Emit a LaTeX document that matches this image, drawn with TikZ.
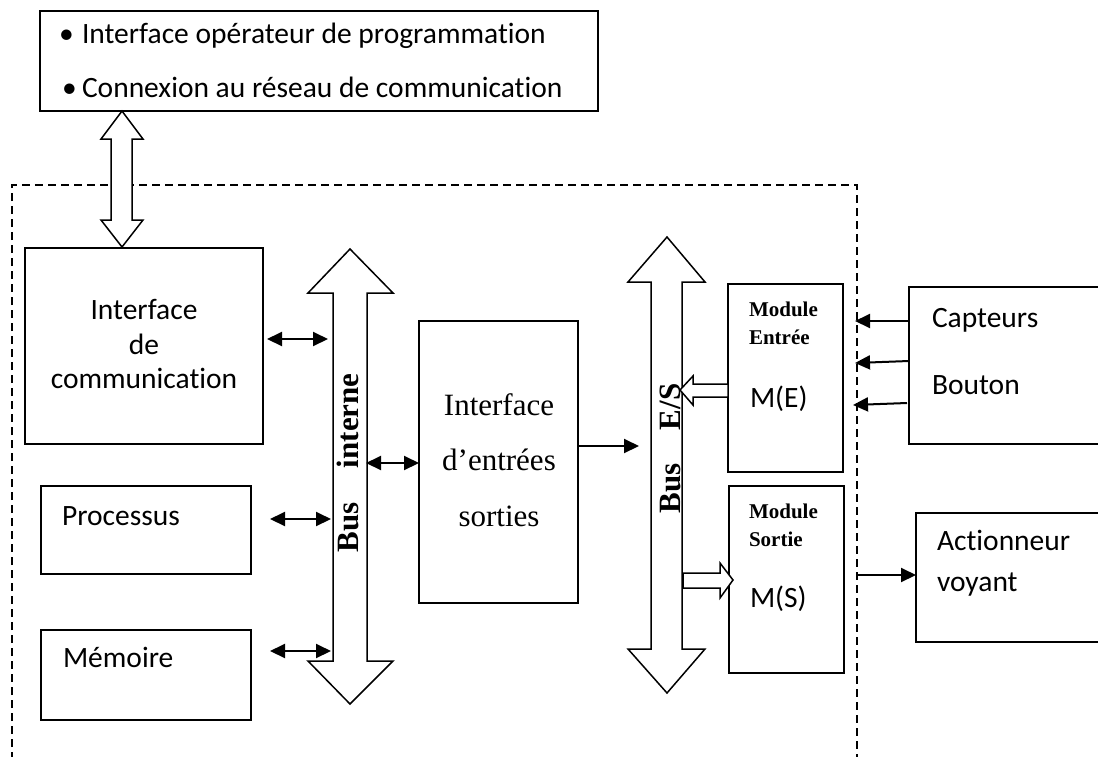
\documentclass[tikz,border=0pt]{standalone}
\usepackage{fontspec}
\setmainfont{Carlito}[Ligatures=NoCommon]
\newfontfamily\tnr{Liberation Serif}
\usetikzlibrary{arrows.meta}

\tikzset{
  box/.style={draw, line width=1.6pt, inner sep=0pt, outer sep=0pt, anchor=north west},
  txt/.style={inner sep=0pt, outer sep=0pt, anchor=base west, font=\fontsize{29.5}{31}\selectfont},
  serif/.style={inner sep=0pt, outer sep=0pt, anchor=base, font=\tnr\fontsize{31}{33}\selectfont},
  modtxt/.style={inner sep=0pt, outer sep=0pt, anchor=base west, font=\tnr\bfseries\fontsize{21}{23}\selectfont},
  buslbl/.style={inner sep=0pt, outer sep=0pt, anchor=base west, rotate=90, font=\tnr\bfseries\fontsize{31}{33}\selectfont},
  hollow/.style={draw, line width=1.5pt, fill=white, line join=miter},
  link/.style={line width=2pt, -{Triangle[length=15pt,width=14pt]}},
  dlink/.style={line width=2pt, {Triangle[length=15pt,width=14pt]}-{Triangle[length=15pt,width=14pt]}},
  frame/.style={line width=1.3pt, dash pattern=on 8pt off 5pt}
}

\begin{document}
\begin{tikzpicture}[x=1pt, y=-1pt]
\useasboundingbox (0,0) rectangle (1098,756);
\clip (0,0) rectangle (1098,756);
\fill[white] (0,0) rectangle (1098,756);

% automate boundary (open at the bottom)
\draw[frame] (12,760) -- (12,185) -- (857,185) -- (857,760);

% operator / network box
\node[box, minimum width=558pt, minimum height=100pt] (top) at (40,11) {};
\node[txt] (b1) at (59,43) {\textbullet};
\node[txt] (t1) at (82,43) {Interface opérateur de programmation};
\node[txt] (b2) at (62,97) {\textbullet};
\node[txt] (t2) at (82,97) {Connexion au réseau de communication};

% link between operator box and communication interface
\draw[hollow] (122,111) -- (143,139) -- (132,139) -- (132,220) -- (143,220) -- (122,247)
  -- (101,220) -- (111,220) -- (111,139) -- (101,139) -- cycle;

% left column
\node[box, minimum width=238pt, minimum height=196pt] (com) at (25,248) {};
\node[txt, anchor=base] (com1) at (144,319) {Interface};
\node[txt, anchor=base] (com2) at (144,354) {de};
\node[txt, anchor=base] (com3) at (144,388) {communication};

\node[box, minimum width=210pt, minimum height=88pt] (proc) at (41,486) {};
\node[txt] (proct) at (62,525) {Processus};

\node[box, minimum width=210pt, minimum height=90pt] (mem) at (41,630) {};
\node[txt] (memt) at (63,667) {Mémoire};

% internal bus
\draw[hollow] (350,249) -- (393,293) -- (367,293) -- (367,661) -- (393,661) -- (350,704)
  -- (308,661) -- (333,661) -- (333,293) -- (308,293) -- cycle;
\node[buslbl] (busi1) at (358,552) {Bus};
\node[buslbl] (busi2) at (358,468) {interne};

% I/O interface
\node[box, minimum width=159pt, minimum height=282pt] (ios) at (419,321) {};
\node[serif] (ios1) at (499,415) {Interface};
\node[serif] (ios2) at (499,470) {d’entrées};
\node[serif] (ios3) at (499,526) {sorties};

% I/O bus
\draw[hollow] (667,237) -- (705,282) -- (682,282) -- (682,649) -- (705,649) -- (667,693)
  -- (628,649) -- (651,649) -- (651,282) -- (628,282) -- cycle;
\node[buslbl] (buse1) at (680,513) {Bus};
\node[buslbl] (buse2) at (680,430) {E/S};

% input / output modules
\node[box, minimum width=115pt, minimum height=188pt] (min) at (728,284) {};
\node[modtxt] (min1) at (749,316) {Module};
\node[modtxt] (min2) at (749,344) {Entrée};
\node[txt] (min3) at (750,407) {M(E)};

\node[box, minimum width=115pt, minimum height=187pt] (mout) at (729,486) {};
\node[modtxt] (mout1) at (749,518) {Module};
\node[modtxt] (mout2) at (749,546) {Sortie};
\node[txt] (mout3) at (750,607) {M(S)};

% hollow arrows between modules and the I/O bus
\draw[hollow] (680,390) -- (693,376) -- (693,384) -- (728,384) -- (728,397) -- (693,397) -- (693,405) -- cycle;
\draw[hollow] (733,580) -- (720,563) -- (720,573) -- (683,573) -- (683,588) -- (720,588) -- (720,598) -- cycle;

% field devices
\node[box, minimum width=200pt, minimum height=157pt] (cap) at (909,287) {};
\node[txt] (cap1) at (932,327) {Capteurs};
\node[txt] (cap2) at (932,394) {Bouton};

\node[box, minimum width=200pt, minimum height=129pt] (act) at (916,513) {};
\node[txt] (act1) at (937,550) {Actionneur};
\node[txt] (act2) at (937,591) {voyant};

% connector end points
\coordinate (c1a) at (267,339);  \coordinate (c1b) at (328,339);
\coordinate (c2a) at (270,519);  \coordinate (c2b) at (331,519);
\coordinate (c3a) at (270,651);  \coordinate (c3b) at (331,651);
\coordinate (c4a) at (366,463);
\coordinate (c5b) at (639,446);
\coordinate (s1) at (855,321);
\coordinate (s2) at (855,363);
\coordinate (s3) at (853,405);
\coordinate (s4) at (857,575);

% bus connections
\draw[dlink] (c1a) -- (c1b);
\draw[dlink] (c2a) -- (c2b);
\draw[dlink] (c3a) -- (c3b);
\draw[dlink] (c4a) -- (ios.west |- c4a);
\draw[link] (ios.east |- c5b) -- (c5b);

% field signals
\draw[link] (cap.west |- s1) -- (s1);
\draw[link] (909,361) -- (s2);
\draw[link] (907,403) -- (s3);
\draw[link] (s4) -- (act.west |- s4);
\end{tikzpicture}
\end{document}
